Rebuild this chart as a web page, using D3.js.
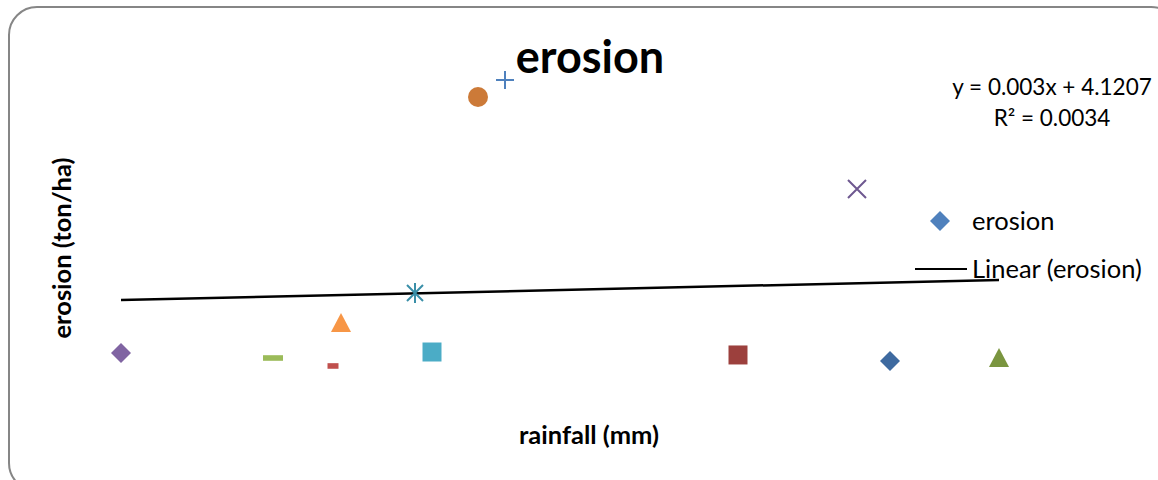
<!DOCTYPE html>
<html>
<head>
<meta charset="utf-8">
<script src="https://cdn.jsdelivr.net/npm/d3@7"></script>
<style>
  html, body { margin: 0; padding: 0; background: #fff; }
  svg { display: block; }
  text { font-family: Lato, "Open Sans", sans-serif; fill: #000; }
</style>
</head>
<body>
<svg id="chart" width="1158" height="480"></svg>
<script>
// Annual rainfall (mm) and soil erosion (ton/ha) per observation
const rainfall = [1700, 1852, 1912, 1920, 1994, 2011, 2057, 2084, 2317, 2436, 2469, 2578];
const erosion  = [2.24, 1.58, 0.53, 6.19, 10.14, 2.37, 35.96, 38.19, 1.98, 23.84, 1.19, 1.58];

// Each point gets its own marker and colour ("vary colours by point")
const markerShapes = ["diamond", "dash", "dot", "triangle", "star", "square",
                      "circle", "plus", "square", "x", "diamond", "triangle"];
const markerColors = ["#8064A2", "#9BBB59", "#C0504D", "#F79646", "#3A8FA8", "#4BACC6",
                      "#CC7A38", "#4F81BD", "#9C403D", "#6E5890", "#3E6AA0", "#7A953F"];

// Linear trendline as reported on the chart
const trendSlope = 0.003;
const trendIntercept = 4.1207;
const trendLabel = ["y = 0.003x + 4.1207", "R\u00B2 = 0.0034"];

const titleText = "erosion";
const xTitle = "rainfall (mm)";
const yTitle = "erosion (ton/ha)";
const legendLabels = ["erosion", "Linear (erosion)"];

const points = rainfall.map((r, i) => ({ r, e: erosion[i], shape: markerShapes[i], color: markerColors[i] }));

const svg = d3.select("#chart");

// Chart frame with rounded corners (extends past the window on the right/bottom)
svg.append("rect")
  .attr("x", 9).attr("y", 7)
  .attr("width", 1170).attr("height", 484)
  .attr("rx", 28).attr("ry", 28)
  .attr("fill", "#fff")
  .attr("stroke", "#868686")
  .attr("stroke-width", 2);

// Scales (axes themselves are hidden)
const x = d3.scaleLinear().domain([1600, 2700]).range([21, 1121]);
const y = d3.scaleLinear().domain([0, 40]).range([370, 66.3]);

// Trendline over the observed rainfall range
const rExt = d3.extent(rainfall);
const trend = rExt.map(r => [r, trendIntercept + trendSlope * r]);
svg.append("path")
  .datum(trend)
  .attr("d", d3.line().x(d => x(d[0])).y(d => y(d[1])))
  .attr("fill", "none")
  .attr("stroke", "#000")
  .attr("stroke-width", 2.5);

// Marker path builder, centred on 0,0
function markerPath(shape) {
  const p = d3.path();
  const h = 10;
  switch (shape) {
    case "diamond":
      p.moveTo(0, -h); p.lineTo(h, 0); p.lineTo(0, h); p.lineTo(-h, 0); p.closePath(); break;
    case "square":
      p.rect(-9.5, -9.5, 19, 19); break;
    case "triangle":
      p.moveTo(0, -10); p.lineTo(10, 9); p.lineTo(-10, 9); p.closePath(); break;
    case "circle":
      p.arc(0, 0, 10, 0, 2 * Math.PI); break;
    case "dash":
      p.rect(-10, -2.8, 20, 5.6); break;
    case "dot":
      p.rect(-5.5, -2.8, 11, 5.6); break;
    case "plus":
      p.moveTo(-9, 0); p.lineTo(9, 0); p.moveTo(0, -9); p.lineTo(0, 9); break;
    case "x":
      p.moveTo(-9, -9); p.lineTo(9, 9); p.moveTo(9, -9); p.lineTo(-9, 9); break;
    case "star":
      p.moveTo(-8, -8); p.lineTo(8, 8); p.moveTo(8, -8); p.lineTo(-8, 8);
      p.moveTo(0, -10); p.lineTo(0, 10); break;
  }
  return p.toString();
}
const stroked = new Set(["plus", "x", "star"]);

svg.append("g").selectAll("path")
  .data(points)
  .join("path")
  .attr("transform", d => `translate(${x(d.r)},${y(d.e)})`)
  .attr("d", d => markerPath(d.shape))
  .attr("fill", d => stroked.has(d.shape) ? "none" : d.color)
  .attr("stroke", d => stroked.has(d.shape) ? d.color : "none")
  .attr("stroke-width", 2)
  .attr("stroke-linecap", "butt")
  .attr("stroke-linejoin", "round");

// Title
svg.append("text")
  .attr("x", 590).attr("y", 73)
  .attr("text-anchor", "middle")
  .attr("font-size", 45)
  .attr("font-weight", "bold")
  .text(titleText);

// Trendline equation
svg.append("g").selectAll("text")
  .data(trendLabel)
  .join("text")
  .attr("x", 1052)
  .attr("y", (d, i) => 95 + i * 31)
  .attr("text-anchor", "middle")
  .attr("font-size", 22.5)
  .text(d => d);

// Axis titles
svg.append("text")
  .attr("x", 589).attr("y", 444)
  .attr("text-anchor", "middle")
  .attr("font-size", 25.5)
  .attr("font-weight", "bold")
  .text(xTitle);

svg.append("text")
  .attr("transform", "translate(71,248) rotate(-90)")
  .attr("text-anchor", "middle")
  .attr("font-size", 25.5)
  .attr("font-weight", "bold")
  .text(yTitle);

// Legend
const legend = svg.append("g");
legend.append("path")
  .attr("transform", "translate(940,221)")
  .attr("d", markerPath("diamond"))
  .attr("fill", "#4F81BD");
legend.append("line")
  .attr("x1", 915).attr("x2", 967)
  .attr("y1", 269).attr("y2", 269)
  .attr("stroke", "#000").attr("stroke-width", 2);
legend.selectAll("text")
  .data(legendLabels)
  .join("text")
  .attr("x", 972)
  .attr("y", (d, i) => 230 + i * 48)
  .attr("font-size", 25.5)
  .text(d => d);
</script>
</body>
</html>
